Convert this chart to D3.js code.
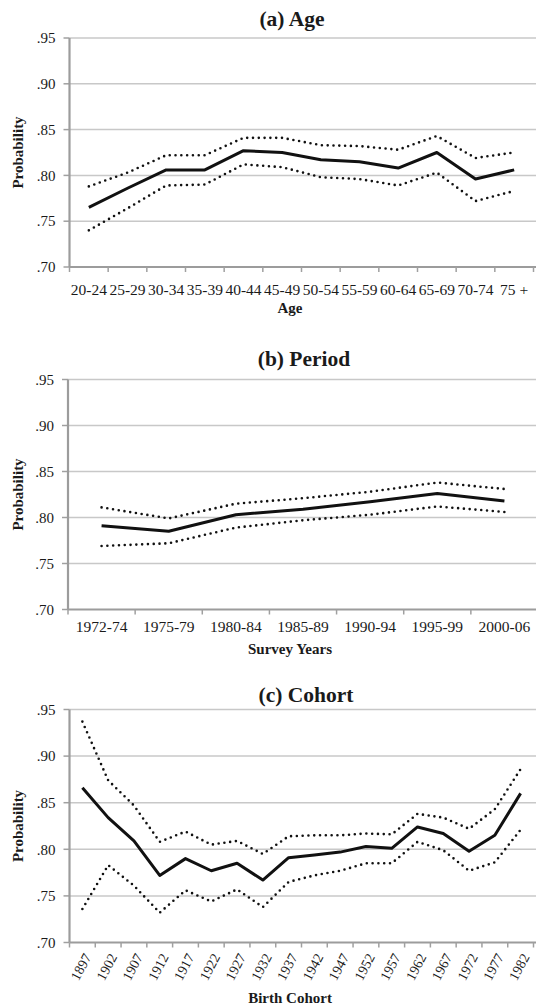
<!DOCTYPE html>
<html>
<head>
<meta charset="utf-8">
<script src="https://cdn.jsdelivr.net/npm/d3@7"></script>
<style>
  body { margin: 0; background: #fff; }
  svg { display: block; }
</style>
</head>
<body>
<svg id="chart" width="536" height="1008"></svg>
<script>
// (a) Age
const ageCats  = ['20-24','25-29','30-34','35-39','40-44','45-49','50-54','55-59','60-64','65-69','70-74','75 +'];
const ageMain  = [.765, .786, .806, .806, .827, .825, .817, .815, .808, .825, .796, .806];
const ageUpper = [.788, .803, .822, .822, .841, .841, .833, .832, .828, .843, .819, .825];
const ageLower = [.740, .764, .789, .790, .812, .809, .798, .796, .789, .803, .772, .783];

// (b) Period
const periodCats  = ['1972-74','1975-79','1980-84','1985-89','1990-94','1995-99','2000-06'];
const periodMain  = [.791, .785, .803, .809, .817, .826, .818];
const periodUpper = [.811, .799, .815, .821, .828, .838, .831];
const periodLower = [.769, .772, .789, .797, .803, .812, .806];

// (c) Cohort
const cohortCats  = ['1897','1902','1907','1912','1917','1922','1927','1932','1937',
                     '1942','1947','1952','1957','1962','1967','1972','1977','1982'];
const cohortMain  = [.866, .834, .809, .772, .790, .777, .785, .767, .791,
                     .794, .797, .803, .801, .824, .817, .798, .815, .860];
const cohortUpper = [.937, .874, .847, .808, .819, .805, .809, .795, .814,
                     .815, .815, .817, .816, .838, .834, .822, .843, .886];
const cohortLower = [.736, .783, .761, .732, .756, .744, .757, .738, .765,
                     .772, .777, .785, .785, .808, .799, .777, .786, .821];

const yTicks = [.70, .75, .80, .85, .90, .95];
const fmt = v => d3.format('.2f')(v).replace(/^0/, '');
const FONT = "'Liberation Serif', 'DejaVu Serif', serif";

const panels = [
  { title: '(a) Age', titleX: 292, titleY: 26, cats: ageCats,
    main: ageMain, upper: ageUpper, lower: ageLower,
    xr: [69.5, 533.5], yr: [267, 38], labelY: 295, xTitle: 'Age', xTitleY: 313 },
  { title: '(b) Period', titleX: 304, titleY: 366, cats: periodCats,
    main: periodMain, upper: periodUpper, lower: periodLower,
    xr: [68, 538], yr: [609.5, 379.5], labelY: 632, xTitle: 'Survey Years', xTitleY: 654 },
  { title: '(c) Cohort', titleX: 306, titleY: 702, cats: cohortCats,
    main: cohortMain, upper: cohortUpper, lower: cohortLower,
    xr: [69.5, 533.5], yr: [942.5, 709.5], rotate: true, xTitle: 'Birth Cohort', xTitleY: 1003 }
];

const svg = d3.select('#chart')
  .attr('font-family', FONT).style('font-family', FONT);
const W = 536;

panels.forEach(p => {
  const g = svg.append('g').attr('fill', '#1a1a1a');
  const x = d3.scaleBand().domain(p.cats).range(p.xr);
  const y = d3.scaleLinear().domain([.70, .95]).range(p.yr);
  const x0 = p.xr[0];

  // gridlines
  g.append('g').selectAll('line').data(yTicks.slice(1)).join('line')
    .attr('x1', x0).attr('x2', W)
    .attr('y1', d => y(d)).attr('y2', d => y(d))
    .attr('stroke', '#c8c8c8').attr('stroke-width', 1.5);

  // y ticks + labels
  g.append('g').selectAll('line').data(yTicks).join('line')
    .attr('x1', x0 - 6).attr('x2', x0)
    .attr('y1', d => y(d)).attr('y2', d => y(d))
    .attr('stroke', '#a0a0a0').attr('stroke-width', 1.5);
  g.append('g').selectAll('text').data(yTicks).join('text')
    .attr('x', x0 - 14).attr('y', d => y(d)).attr('dy', '0.35em')
    .attr('text-anchor', 'end')
    .style('font-family', FONT).style('font-size', '15px')
    .text(fmt);

  // axes lines
  g.append('line').attr('x1', x0).attr('x2', x0)
    .attr('y1', y(.95)).attr('y2', y(.70))
    .attr('stroke', '#9c9c9c').attr('stroke-width', 2.2);
  g.append('line').attr('x1', x0).attr('x2', W)
    .attr('y1', y(.70)).attr('y2', y(.70))
    .attr('stroke', '#9c9c9c').attr('stroke-width', 2.2);

  // x ticks at category boundaries
  const bounds = p.cats.map(c => x(c)).concat([x(p.cats[p.cats.length - 1]) + x.bandwidth()]);
  g.append('g').selectAll('line').data(bounds).join('line')
    .attr('x1', d => d).attr('x2', d => d)
    .attr('y1', y(.70)).attr('y2', y(.70) + 5)
    .attr('stroke', '#a0a0a0').attr('stroke-width', 1.5);

  const cx = c => x(c) + x.bandwidth() / 2;

  // x labels
  if (p.rotate) {
    g.append('g').selectAll('text').data(p.cats).join('text')
      .attr('transform', c => `translate(${cx(c) + 5},${y(.70) + 12}) rotate(-62)`)
      .attr('dy', '0.35em').attr('text-anchor', 'end')
      .style('font-family', FONT).style('font-size', '14px')
      .text(c => c);
  } else {
    g.append('g').selectAll('text').data(p.cats).join('text')
      .attr('x', cx).attr('y', p.labelY)
      .attr('text-anchor', 'middle')
      .style('font-family', FONT).style('font-size', '15.5px')
      .text(c => c);
  }

  // lines
  const line = d3.line().x((d, i) => cx(p.cats[i])).y(d => y(d));
  [p.upper, p.lower].forEach(s => {
    g.append('path').attr('d', line(s)).attr('fill', 'none')
      .attr('stroke', '#111').attr('stroke-width', 2.6)
      .attr('stroke-linecap', 'round').attr('stroke-dasharray', '0 5.8');
  });
  g.append('path').attr('d', line(p.main)).attr('fill', 'none')
    .attr('stroke', '#111').attr('stroke-width', 3)
    .attr('stroke-linejoin', 'round');

  // titles
  g.append('text').attr('x', p.titleX).attr('y', p.titleY)
    .attr('text-anchor', 'middle')
    .style('font-family', FONT).style('font-size', '21.5px').style('font-weight', 'bold')
    .text(p.title);
  g.append('text').attr('x', 290).attr('y', p.xTitleY)
    .attr('text-anchor', 'middle')
    .style('font-family', FONT).style('font-size', '15px').style('font-weight', 'bold')
    .text(p.xTitle);
  g.append('text')
    .attr('transform', `translate(23,${(p.yr[0] + p.yr[1]) / 2}) rotate(-90)`)
    .attr('text-anchor', 'middle')
    .style('font-family', FONT).style('font-size', '15px').style('font-weight', 'bold')
    .text('Probability');
});
</script>
</body>
</html>
